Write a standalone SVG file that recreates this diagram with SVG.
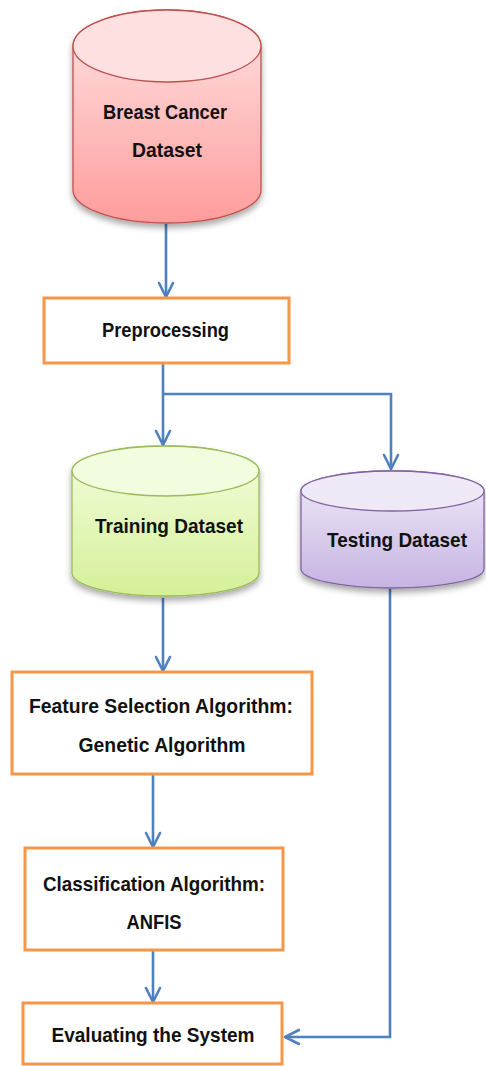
<svg xmlns="http://www.w3.org/2000/svg" width="486" height="1066" viewBox="0 0 486 1066">
<style>
.box{fill:#ffffff;stroke:#F79646;stroke-width:3}
.lbl{font-family:"Liberation Sans",Arial,sans-serif;font-weight:bold;font-size:21px;fill:#111111;text-anchor:middle}
.conn{fill:none;stroke:#4F81BD;stroke-width:2.6}
</style>
<defs>
<linearGradient id="gRed" x1="0" y1="0" x2="0" y2="1">
<stop offset="0" stop-color="#FFE3E3"/><stop offset="1" stop-color="#FF9C9C"/>
</linearGradient>
<linearGradient id="gGreen" x1="0" y1="0" x2="0" y2="1">
<stop offset="0" stop-color="#F3FDE0"/><stop offset="1" stop-color="#D5F097"/>
</linearGradient>
<linearGradient id="gPurple" x1="0" y1="0" x2="0" y2="1">
<stop offset="0" stop-color="#F0EBF8"/><stop offset="1" stop-color="#C6B4E2"/>
</linearGradient>
<filter id="sh" x="-20%" y="-20%" width="140%" height="150%">
<feDropShadow dx="0" dy="4" stdDeviation="3" flood-color="#000000" flood-opacity="0.35"/>
</filter>
<marker id="arr" viewBox="0 0 18 18" refX="16" refY="9" markerWidth="18" markerHeight="18" markerUnits="userSpaceOnUse" orient="auto">
<path d="M2,2 L16,9 L2,16" fill="none" stroke="#4F81BD" stroke-width="2.6" stroke-linecap="round" stroke-linejoin="round"/>
</marker>
</defs>

<g id="connectors">
<line class="conn" x1="166" y1="224" x2="166" y2="297" marker-end="url(#arr)"/>
<path class="conn" d="M163,364 L163,445" marker-end="url(#arr)"/>
<path class="conn" d="M163,394 L391,394 L391,469" marker-end="url(#arr)"/>
<line class="conn" x1="163" y1="598" x2="163" y2="671" marker-end="url(#arr)"/>
<line class="conn" x1="153" y1="775" x2="153" y2="847" marker-end="url(#arr)"/>
<line class="conn" x1="153" y1="951" x2="153" y2="1002" marker-end="url(#arr)"/>
<path class="conn" d="M390,589 L390,1037 L285,1037" marker-end="url(#arr)"/>
</g>

<g id="breast-cancer-dataset">
<g filter="url(#sh)">
<path d="M73,46 L73,190 A94,33 0 0 0 261,190 L261,46 A94,36 0 0 0 73,46 Z" fill="url(#gRed)" stroke="#C0504D" stroke-width="1.3"/>
</g>
<ellipse cx="167" cy="46" rx="94" ry="36" fill="#FFE0E0" stroke="#C0504D" stroke-width="1.3"/>
<text class="lbl" x="165" y="119" textLength="124" lengthAdjust="spacingAndGlyphs">Breast Cancer</text>
<text class="lbl" x="167" y="157" textLength="70" lengthAdjust="spacingAndGlyphs">Dataset</text>
</g>

<g id="preprocessing">
<rect class="box" x="44" y="298" width="245" height="65"/>
<text class="lbl" x="165.5" y="337" textLength="127" lengthAdjust="spacingAndGlyphs">Preprocessing</text>
</g>

<g id="training-dataset">
<g filter="url(#sh)">
<path d="M72,471 L72,573 A93.5,23 0 0 0 259,573 L259,471 A93.5,25 0 0 0 72,471 Z" fill="url(#gGreen)" stroke="#9BBB59" stroke-width="1.3"/>
</g>
<ellipse cx="165.5" cy="471" rx="93.5" ry="25" fill="#F2FDE0" stroke="#9BBB59" stroke-width="1.3"/>
<text class="lbl" x="169" y="533" textLength="148" lengthAdjust="spacingAndGlyphs">Training Dataset</text>
</g>

<g id="testing-dataset">
<g filter="url(#sh)">
<path d="M301,491 L301,569 A91.5,19 0 0 0 484,569 L484,491 A91.5,20 0 0 0 301,491 Z" fill="url(#gPurple)" stroke="#8064A2" stroke-width="1.3"/>
</g>
<ellipse cx="392.5" cy="491" rx="91.5" ry="20" fill="#EFE9F7" stroke="#8064A2" stroke-width="1.3"/>
<text class="lbl" x="397" y="547" textLength="140" lengthAdjust="spacingAndGlyphs">Testing Dataset</text>
</g>

<g id="feature-selection">
<rect class="box" x="12" y="672" width="300" height="102"/>
<text class="lbl" x="161" y="713" textLength="264" lengthAdjust="spacingAndGlyphs">Feature Selection Algorithm:</text>
<text class="lbl" x="162" y="752" textLength="167" lengthAdjust="spacingAndGlyphs">Genetic Algorithm</text>
</g>

<g id="classification">
<rect class="box" x="25" y="848" width="258" height="102"/>
<text class="lbl" x="154" y="891" textLength="222" lengthAdjust="spacingAndGlyphs">Classification  Algorithm:</text>
<text class="lbl" x="154" y="929" textLength="55" lengthAdjust="spacingAndGlyphs">ANFIS</text>
</g>

<g id="evaluating">
<rect class="box" x="23" y="1003" width="259" height="61"/>
<text class="lbl" x="153" y="1042" textLength="203" lengthAdjust="spacingAndGlyphs">Evaluating  the System</text>
</g>
</svg>
